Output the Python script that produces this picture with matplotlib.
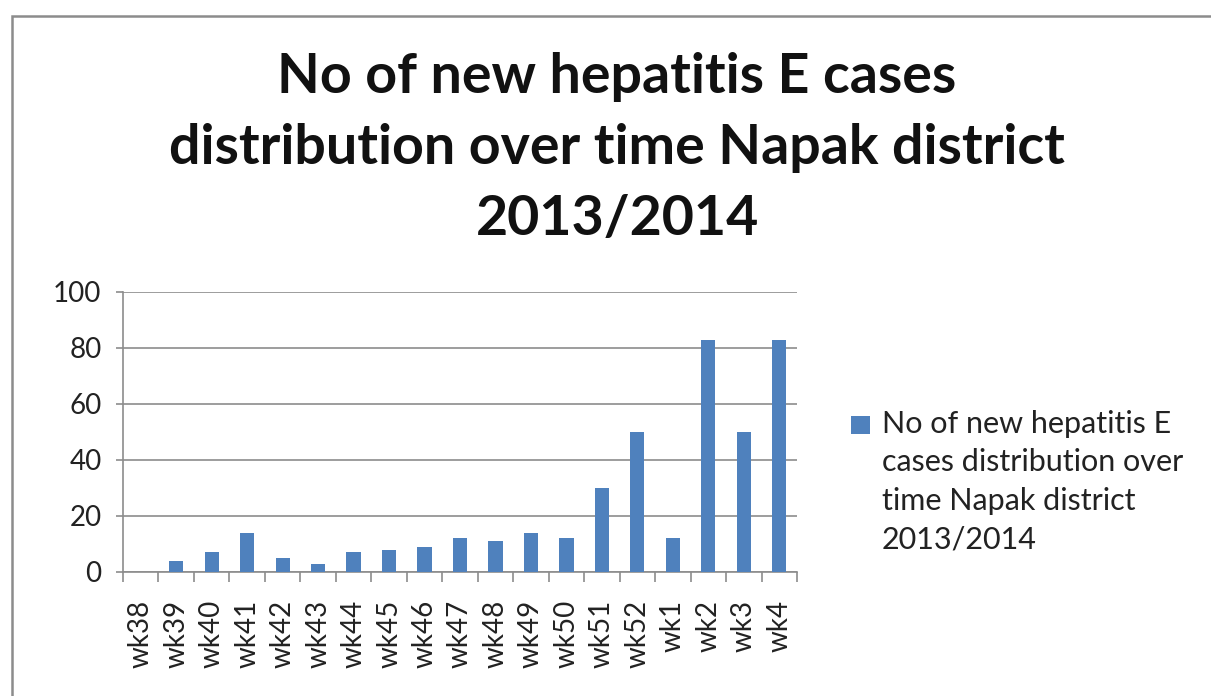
import matplotlib.pyplot as plt
from matplotlib.patches import Rectangle
from matplotlib.container import BarContainer
from matplotlib.legend_handler import HandlerPatch, update_from_first_child

weeks = ['wk38', 'wk39', 'wk40', 'wk41', 'wk42', 'wk43', 'wk44', 'wk45', 'wk46',
         'wk47', 'wk48', 'wk49', 'wk50', 'wk51', 'wk52', 'wk1', 'wk2', 'wk3', 'wk4']
cases = [0, 4, 7, 14, 5, 3, 7, 8, 9, 12, 11, 14, 12, 30, 50, 12, 83, 50, 83]
series_name = 'No of new hepatitis E\ncases distribution over\ntime Napak district\n2013/2014'
title = 'No of new hepatitis E cases\ndistribution over time Napak district\n2013/2014'

plt.rcParams['font.family'] = ['Lato', 'DejaVu Sans']


def top_square(legend, orig_handle, xdescent, ydescent, width, height, fontsize):
    # legend key sits next to the first line of the label instead of the middle
    size = width
    return Rectangle((-xdescent, -ydescent + height / 2 + 41.5 - size / 2), size, size)


fig = plt.figure(figsize=(12.11, 6.96), dpi=100)
fig.patch.set_facecolor('white')

# chart frame (open to the right and bottom)
fig.patches.append(Rectangle((12 / 1211, -0.1), 1.1, 1.1 - 16 / 696,
                             transform=fig.transFigure, fill=False,
                             edgecolor='#8c8c8c', linewidth=1.8))

ax = fig.add_axes([123 / 1211, 1 - 572 / 696, 674 / 1211, 280 / 696])
x = list(range(len(weeks)))
ax.bar(x, cases, width=0.4, color='#4f81bd', label=series_name, zorder=3)

ax.set_xlim(-0.5, len(weeks) - 0.5)
ax.set_ylim(0, 100)
ax.set_yticks(range(0, 101, 20))
ax.set_xticks(x)
ax.set_xticklabels(weeks, rotation=90)
ax.set_xticks([i - 0.5 for i in range(len(weeks) + 1)], minor=True)

ax.yaxis.grid(True, color='#8c8c8c', linewidth=1.2, zorder=0)
for side in ['top', 'right']:
    ax.spines[side].set_visible(False)
for side in ['left', 'bottom']:
    ax.spines[side].set_color('#8c8c8c')
    ax.spines[side].set_linewidth(1.2)

ax.tick_params(axis='x', which='major', length=0, pad=20, labelsize=20, labelcolor='#222222')
ax.tick_params(axis='x', which='minor', length=7, color='#8c8c8c', width=1.2)
ax.tick_params(axis='y', length=5, color='#8c8c8c', width=1.2, pad=10.5,
               labelsize=20, labelcolor='#222222')

fig.text(617 / 1211, 1 - 148 / 696, title, ha='center', va='center',
         fontsize=40, fontweight='bold', linespacing=1.52, color='#111111')

ax.legend(loc='upper left', bbox_to_anchor=(824 / 1211, 1 - 382 / 696),
          bbox_transform=fig.transFigure, frameon=False, fontsize=22,
          handlelength=0.6, handleheight=0.6, handletextpad=0.4,
          labelspacing=0, labelcolor='#222222',
          handler_map={BarContainer: HandlerPatch(patch_func=top_square,
                                                  update_func=update_from_first_child)})
for t in ax.get_legend().get_texts():
    t.set_linespacing(1.47)

fig.savefig('out.png', dpi=100)
